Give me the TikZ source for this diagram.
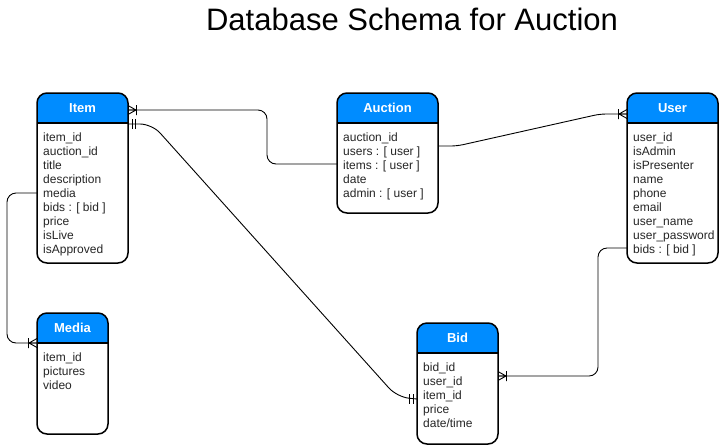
\documentclass[tikz,border=0pt]{standalone}
\usepackage{fontspec}
\setmainfont{Liberation Sans}
\usetikzlibrary{calc}
\definecolor{hdrblue}{RGB}{0,140,255}
\tikzset{
  entity/.style={draw=black, line width=1.5pt, rounded corners=10pt, fill=white,
    anchor=north west, inner sep=0pt, outer sep=0pt,
    path picture={
      \fill[hdrblue, sharp corners] (path picture bounding box.north west) rectangle ([yshift=-30pt]path picture bounding box.north east);
      \draw[black, line width=1.5pt, sharp corners] ([yshift=-30pt]path picture bounding box.north west) -- ([yshift=-30pt]path picture bounding box.north east);
    }},
  hdrtext/.style={font=\fontsize{13}{14}\selectfont\bfseries, text=white, inner sep=0pt},
  field/.style={font=\fontsize{12}{14}\selectfont, text=black!85, anchor=base west, inner sep=0pt},
  conn/.style={draw=black, line width=0.9pt, rounded corners=9pt},
  endmark/.style={draw=black, line width=0.9pt},
  titlestyle/.style={font=\fontsize{31}{36}\selectfont, inner sep=0pt}
}
\newcommand{\erentity}[7]{%
  \node[entity, minimum width=#4pt, minimum height=#5pt] (#1) at (#2,#3) {};
  \node[hdrtext] (#1-title) at ($(#1.north)+(0,15)$) {#6};
  \foreach \f [count=\i] in {#7} {
    \node[field] (#1-f\i) at ($(#1.north west)+(6,34+14*\i)$) {\f};
  }
}
\newcommand{\crowfoot}[2]{\begin{scope}[shift={#1}, rotate=#2]
  \draw[endmark] (0,4.5) -- (8,0) -- (0,-4.5) (0,0) -- (8,0) (8.5,5) -- (8.5,-5);
\end{scope}}
\newcommand{\dbar}[2]{\begin{scope}[shift={#1}, rotate=#2]
  \draw[endmark] (4,5) -- (4,-5) (7.5,5) -- (7.5,-5);
\end{scope}}
\begin{document}
\begin{tikzpicture}[x=1pt, y=-1pt]
\useasboundingbox (0,0) rectangle (719,445);
\fill[white] (0,0) rectangle (719,445);
\node[titlestyle] (title) at (412,19) {Database Schema for Auction};

\erentity{item}{37}{93}{91}{170}{Item}{item\_id, auction\_id, title, description, media, {bids : [ bid ]}, price, isLive, isApproved}
\erentity{auction}{337}{93}{101}{120}{Auction}{auction\_id, {users : [ user ]}, {items : [ user ]}, date, {admin : [ user ]}}
\erentity{user}{627}{93}{91}{170}{User}{user\_id, isAdmin, isPresenter, name, phone, email, user\_name, user\_password, {bids : [ bid ]}}
\erentity{media}{37}{313}{71}{121}{Media}{item\_id, pictures, video}
\erentity{bid}{417}{323}{81}{121}{Bid}{bid\_id, user\_id, item\_id, price, {date/time}}

% connector end points
\coordinate (ia) at ($(item.north east)+(0,17)$);
\coordinate (ai) at ($(auction.north west)+(0,71)$);
\coordinate (ib) at ($(item.north east)+(0,31)$);
\coordinate (bi) at ($(bid.north west)+(0,76)$);
\coordinate (im) at ($(item.north west)+(0,100)$);
\coordinate (mi) at ($(media.north west)+(0,30)$);
\coordinate (au) at ($(auction.north east)+(0,53)$);
\coordinate (ua) at ($(user.north west)+(0,21)$);
\coordinate (ub) at ($(user.north west)+(0,155)$);
\coordinate (bu) at ($(bid.north east)+(0,53)$);

% Item - Auction
\draw[conn] (ia) -- ($(ia)+(139,0)$) |- (ai);
\crowfoot{(ia)}{0}
% Item - Bid
\draw[conn, rounded corners=12pt] (ib) -- ($(ib)+(24,0)$) -- ($(bi)+(-20,-2)$) -- (bi);
\dbar{(ib)}{0}
\dbar{(bi)}{180}
% Item - Media
\draw[conn] (im) -- ($(im)+(-30,0)$) |- (mi);
\crowfoot{(mi)}{180}
% Auction - User
\draw[conn, rounded corners=6pt] (au) -- ($(au)+(19,0)$) -- ($(ua)+(-27,0)$) -- (ua);
\crowfoot{(ua)}{180}
% User - Bid
\draw[conn] (ub) -- ($(ub)+(-29,0)$) |- (bu);
\crowfoot{(bu)}{0}
\end{tikzpicture}
\end{document}
